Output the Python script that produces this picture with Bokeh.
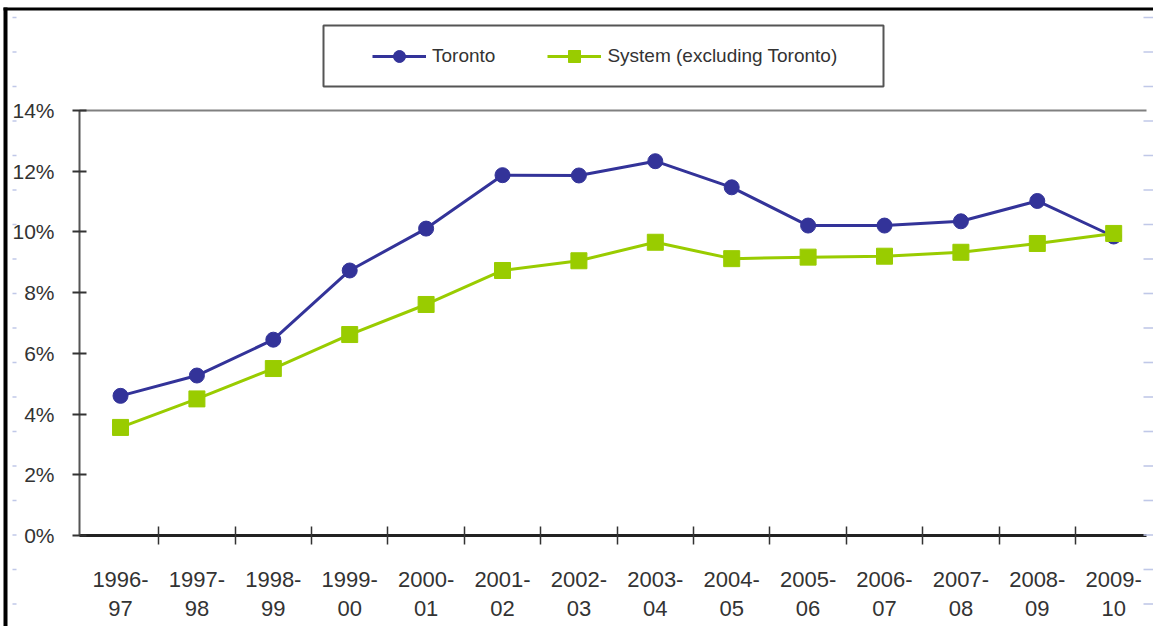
from bokeh.plotting import figure
from bokeh.models import (Range1d, FixedTicker, PrintfTickFormatter, Legend,
                          LegendItem, BoxAnnotation, LinearAxis)
from bokeh.embed import file_html
from bokeh.resources import INLINE

# ---- data ----
years = ["1996-97", "1997-98", "1998-99", "1999-00", "2000-01", "2001-02", "2002-03",
         "2003-04", "2004-05", "2005-06", "2006-07", "2007-08", "2008-09", "2009-10"]
toronto = [4.60, 5.27, 6.45, 8.73, 10.11, 11.87, 11.86, 12.33, 11.47, 10.21, 10.21,
           10.35, 11.02, 9.85]
system = [3.56, 4.50, 5.50, 6.62, 7.61, 8.73, 9.05, 9.66, 9.12, 9.17, 9.20, 9.33,
          9.62, 9.95]
y_ticks = [0, 2, 4, 6, 8, 10, 12, 14]

xs = list(range(len(years)))
label_map = {i: y.replace("-", "-\n") for i, y in enumerate(years)}
boundaries = [i + 0.5 for i in range(len(years) - 1)]

FONT = "Liberation Sans"
TXT = "#333333"
BLUE = "#333399"
GREEN = "#99CC00"

X_LO, X_HI = -0.537, 13.43          # extent of the plotting area along x
Y_LO, Y_HI = 0, 14                  # extent of the plotting area along y

p = figure(width=1153, height=626,
           x_range=Range1d(-1.571, 13.521), y_range=Range1d(-2.998, 17.624),
           output_backend="svg", toolbar_location=None,
           min_border=0)
p.title.visible = False
p.outline_line_color = None
p.background_fill_color = "white"
p.border_fill_color = "white"
p.xgrid.visible = False
p.ygrid.visible = False

# y axis
yax = p.yaxis[0]
yax.fixed_location = X_LO
yax.bounds = (Y_LO, Y_HI)
yax.ticker = FixedTicker(ticks=y_ticks)
yax.formatter = PrintfTickFormatter(format="%d%%")
yax.axis_line_color = "#555555"
yax.axis_line_width = 2
yax.major_tick_line_color = "#333333"
yax.major_tick_line_width = 2
yax.major_tick_in = 7
yax.major_tick_out = 7
yax.minor_tick_line_color = None
yax.major_label_text_font = FONT
yax.major_label_text_font_size = "21px"
yax.major_label_text_color = TXT
yax.major_label_standoff = 18

# x axis
xax = p.xaxis[0]
xax.fixed_location = Y_LO
xax.bounds = (X_LO, X_HI)
xax.ticker = FixedTicker(ticks=xs, minor_ticks=boundaries)
xax.major_label_overrides = label_map
xax.axis_line_color = "#222222"
xax.axis_line_width = 3
xax.major_tick_line_color = None
xax.major_tick_in = 0
xax.major_tick_out = 0
xax.minor_tick_line_color = "#333333"
xax.minor_tick_line_width = 1.5
xax.minor_tick_in = 9
xax.minor_tick_out = 9
xax.major_label_text_font = FONT
xax.major_label_text_font_size = "22px"
xax.major_label_text_color = TXT
xax.major_label_text_line_height = 1.15
xax.major_label_standoff = 23

# top border line of plotting area (at 14%)
top = LinearAxis(fixed_location=Y_HI, bounds=(X_LO, X_HI),
                 ticker=FixedTicker(ticks=[]), axis_line_color="#808080",
                 axis_line_width=2, major_tick_line_color=None,
                 minor_tick_line_color=None, major_label_text_alpha=0)
p.add_layout(top, "above")

# series
l1 = p.line(xs, toronto, line_color=BLUE, line_width=3)
s1 = p.scatter(xs, toronto, marker="circle", size=15, fill_color=BLUE, line_color=BLUE)
l2 = p.line(xs, system, line_color=GREEN, line_width=3)
s2 = p.scatter(xs, system, marker="square", size=16, fill_color=GREEN, line_color=GREEN)

legend = Legend(items=[LegendItem(label="Toronto", renderers=[l1, s1]),
                       LegendItem(label="System (excluding Toronto)", renderers=[l2, s2])],
                location=(372, 555), orientation="horizontal",
                border_line_color=None, background_fill_alpha=0,
                padding=15, spacing=52, glyph_width=54, glyph_height=30,
                label_standoff=6, margin=0,
                label_text_font=FONT, label_text_font_size="19px",
                label_text_color=TXT)
p.add_layout(legend)

def canvas_box(l, r, t, b, **kw):
    return BoxAnnotation(left=l, right=r, top=t, bottom=b,
                         left_units="canvas", right_units="canvas",
                         top_units="canvas", bottom_units="canvas", **kw)

# legend frame
p.add_layout(canvas_box(323, 883, 25, 86, fill_alpha=0, line_alpha=1,
                        line_color="#555555", line_width=2))
# page border (left and top)
p.add_layout(canvas_box(3, 7, 7, 626, fill_color="black", fill_alpha=1, line_color=None))
p.add_layout(canvas_box(3, 1153, 7, 10, fill_color="black", fill_alpha=1, line_color=None))

# faint light-blue dashes along the left and right edges of the picture
for k in range(18):
    yy = 17 + 34.5 * k
    p.add_layout(canvas_box(12, 16, yy - 0.8, yy + 0.8, fill_color="#c0c8e8",
                            fill_alpha=1, line_color=None))
    p.add_layout(canvas_box(1143, 1153, yy - 0.8, yy + 0.8, fill_color="#c0c8e8",
                            fill_alpha=1, line_color=None))

open("out.html", "w").write(file_html(p, INLINE))
